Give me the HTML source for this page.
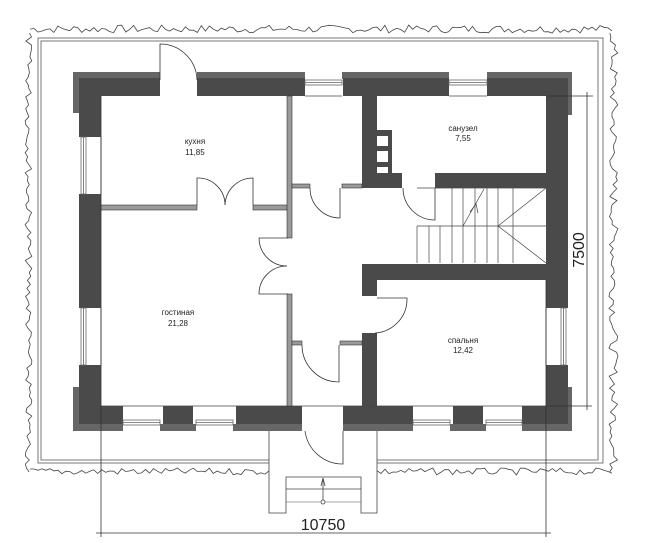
<!DOCTYPE html>
<html><head><meta charset="utf-8"><style>
html,body{margin:0;padding:0;background:#fff;}
svg{display:block;}
text{font-family:"Liberation Sans",sans-serif;fill:#222;}
</style></head><body>
<svg id="s" width="646" height="543" viewBox="0 0 646 543" xmlns="http://www.w3.org/2000/svg">
<g fill="none" stroke="#777" stroke-width="1">
<path d="M269,463 H38 V38 H603 V463 H377"/>
<path d="M269,460 H41 V41 H598 V460 H377"/>
</g>
<path id="wave" fill="none" stroke="#444" stroke-width="0.8" d=""/>

<!-- light outer bands -->
<g fill="#666">
<rect x="73" y="72" width="87" height="8"/>
<rect x="73" y="72" width="6" height="41"/>
<rect x="197" y="72" width="108" height="7"/>
<rect x="342" y="72" width="107" height="7"/>
<rect x="487" y="72" width="85" height="7"/>
<rect x="566" y="72" width="6" height="43"/>
<rect x="73" y="387" width="6" height="44"/>
<rect x="73" y="424" width="50" height="7"/>
<rect x="160" y="424" width="36" height="7"/>
<rect x="233" y="424" width="69" height="7"/>
<rect x="343" y="424" width="70" height="7"/>
<rect x="450" y="424" width="36" height="7"/>
<rect x="522" y="424" width="50" height="7"/>
<rect x="566" y="387" width="6" height="44"/>
</g>
<!-- dark walls -->
<g fill="#4a4a4a">
<rect x="79" y="78" width="81" height="18"/>
<rect x="79" y="78" width="22" height="59"/>
<rect x="79" y="194" width="22" height="114"/>
<rect x="79" y="365" width="22" height="59"/>
<rect x="79" y="406" width="44" height="18"/>
<rect x="163" y="406" width="30" height="18"/>
<rect x="236" y="406" width="66" height="18"/>
<rect x="343" y="406" width="70" height="18"/>
<rect x="453" y="406" width="30" height="18"/>
<rect x="522" y="406" width="46" height="18"/>
<rect x="546" y="365" width="22" height="59"/>
<rect x="197" y="78" width="108" height="18"/>
<rect x="343" y="78" width="106" height="18"/>
<rect x="487" y="78" width="81" height="18"/>
<rect x="546" y="78" width="22" height="230"/>
<rect x="362" y="96" width="15" height="92"/>
<rect x="362" y="130" width="30" height="58"/>
<rect x="362" y="173" width="40" height="15"/>
<rect x="435" y="173" width="111" height="15"/>
<rect x="362" y="264" width="184" height="16"/>
<rect x="362" y="264" width="15" height="32"/>
<rect x="362" y="333" width="15" height="73"/>
</g>
<g fill="#fff"><rect x="377" y="136" width="11" height="10"/><rect x="377" y="151" width="11" height="11"/><rect x="377" y="167" width="11" height="6"/></g>
<!-- windows -->
<g fill="#fff" stroke="#666" stroke-width="0.8">
<rect x="305" y="80" width="37" height="5"/><line x1="305" y1="82.5" x2="342" y2="82.5"/><line x1="305" y1="96" x2="342" y2="96" stroke="#444"/>
<rect x="449" y="80" width="38" height="5"/><line x1="449" y1="82.5" x2="487" y2="82.5"/><line x1="449" y1="96" x2="487" y2="96" stroke="#444"/>
<rect x="81" y="137" width="5" height="57"/><line x1="83.5" y1="137" x2="83.5" y2="194"/><line x1="101" y1="137" x2="101" y2="194" stroke="#444"/>
<rect x="81" y="308" width="5" height="57"/><line x1="83.5" y1="308" x2="83.5" y2="365"/><line x1="101" y1="308" x2="101" y2="365" stroke="#444"/>
<rect x="561" y="308" width="5" height="57"/><line x1="563.5" y1="308" x2="563.5" y2="365"/><line x1="546" y1="308" x2="546" y2="365" stroke="#444"/>
<rect x="123" y="420" width="37" height="5"/><line x1="123" y1="422.5" x2="160" y2="422.5"/>
<rect x="196" y="420" width="37" height="5"/><line x1="196" y1="422.5" x2="233" y2="422.5"/>
<rect x="413" y="420" width="37" height="5"/><line x1="413" y1="422.5" x2="450" y2="422.5"/>
<rect x="486" y="420" width="36" height="5"/><line x1="486" y1="422.5" x2="522" y2="422.5"/>
<line x1="101" y1="406" x2="546" y2="406" stroke="#444"/>
</g>
<!-- partitions -->
<g fill="#9a9a9a" stroke="#333" stroke-width="0.6">
<rect x="101" y="205" width="96" height="5"/>
<rect x="253" y="205" width="34" height="5"/>
<rect x="287" y="96" width="5" height="142"/>
<rect x="287" y="294" width="5" height="112"/>
<rect x="292" y="184" width="18" height="4"/>
<rect x="342" y="184" width="20" height="4"/>
<rect x="292" y="341" width="10" height="4"/>
<rect x="340" y="341" width="22" height="4"/>
</g>
<!-- doors -->
<g fill="none" stroke="#333" stroke-width="0.8">
<path d="M160,80 V44 A37,37 0 0 1 197,80"/>
<path d="M197,205 V178 A27,27 0 0 1 225,205"/>
<path d="M253,205 V178 A28,28 0 0 0 225,205"/>
<path d="M288,238 H259 A28,28 0 0 0 287,266"/>
<path d="M288,294 H259 A28,28 0 0 1 287,266"/>
<path d="M310,188 A30,30 0 0 0 340,218 V188"/>
<path d="M403,188 A32,32 0 0 0 435,220 V188"/>
<path d="M377,298 H407 A34,34 0 0 1 375,333"/>
<path d="M302,345 A37,37 0 0 0 339,382 V345"/>
<path d="M305,431 A38,38 0 0 0 343,464 V431"/>
</g>
<!-- stairs -->
<g fill="none" stroke="#444" stroke-width="0.7">
<line x1="417" y1="188" x2="546" y2="188"/>
<line x1="417" y1="226" x2="546" y2="226"/>
<line x1="417" y1="226" x2="417" y2="263"/>
<line x1="429" y1="226" x2="429" y2="263"/><line x1="440" y1="226" x2="440" y2="263"/>
<line x1="452" y1="188" x2="452" y2="263"/><line x1="463" y1="188" x2="463" y2="263"/>
<line x1="475" y1="188" x2="475" y2="263"/><line x1="487" y1="188" x2="487" y2="263"/>
<line x1="498" y1="188" x2="498" y2="263"/><line x1="513" y1="188" x2="513" y2="263"/>
<line x1="498" y1="226" x2="546" y2="188"/><line x1="498" y1="226" x2="546" y2="263"/>
<line x1="463" y1="226" x2="484" y2="189"/>
<path d="M470,212 L476,204 L478,213"/>
</g>
<!-- porch -->
<g fill="none" stroke="#444" stroke-width="0.8">
<path d="M269,431 V513 H286 V477 H361 V513 H377 V431"/>
<line x1="286" y1="489" x2="361" y2="489"/>
<line x1="286" y1="502" x2="361" y2="502" stroke="#888"/>
<line x1="323" y1="502" x2="323" y2="478"/>
<path d="M321,486 L323,478 L325,486"/>
<circle cx="323" cy="502" r="2" fill="#fff"/>
</g>
<!-- dimensions -->
<g stroke="#333" stroke-width="0.8" fill="none">
<line x1="101" y1="96" x2="101" y2="537"/>
<line x1="546" y1="280" x2="546" y2="537"/>
<line x1="96" y1="533" x2="551" y2="533"/>
<line x1="546" y1="96" x2="593" y2="96"/>
<line x1="546" y1="406" x2="592" y2="406"/>
<line x1="587" y1="92" x2="587" y2="410"/>
</g>
<text x="323" y="530" font-size="16" text-anchor="middle">10750</text>
<text x="0" y="0" font-size="16" text-anchor="middle" transform="translate(584,250) rotate(-90)">7500</text>
<g font-size="8" text-anchor="middle">
<text x="195" y="144">кухня</text><text x="195" y="155">11,85</text>
<text x="178" y="315">гостиная</text><text x="178" y="326">21,28</text>
<text x="463" y="131">санузел</text><text x="463" y="141">7,55</text>
<text x="463" y="343">спальня</text><text x="463" y="353">12,42</text>
</g>
</svg>
<script>
(function(){
var seed=7;function r(){seed=(seed*9301+49297)%233280;return seed/233280;}
function seg(x0,y0,x1,y1,base,amp,nx,ny){var d="";var len=Math.hypot(x1-x0,y1-y0);var n=Math.round(len/4);
for(var i=0;i<=n;i++){var t=i/n;var o=(r()*amp);var x=x0+(x1-x0)*t+nx*o;var y=y0+(y1-y0)*t+ny*o;d+=(i==0?"M":"L")+x.toFixed(1)+","+y.toFixed(1);}return d;}
var d=seg(30,33,612,33,0,8,0,-1)+seg(32,33,32,472,0,7,-1,0)+seg(609,33,609,472,0,9,1,0)+seg(30,468,269,468,0,7,0,1)+seg(377,468,612,468,0,7,0,1);
document.getElementById("wave").setAttribute("d",d);
})();
</script>
</body></html>
